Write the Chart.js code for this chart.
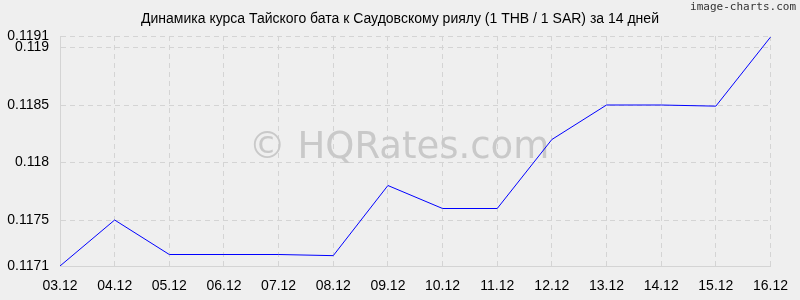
<!DOCTYPE html>
<html>
<head>
<meta charset="utf-8">
<script src="https://cdn.jsdelivr.net/npm/chart.js@4"></script>
<style>
  html, body { margin: 0; padding: 0; background: #efefef; }
  #wrap { width: 800px; height: 300px; position: relative; }
</style>
</head>
<body>
<div id="wrap"><canvas id="c"></canvas></div>
<script>
var dates = ['03.12', '04.12', '05.12', '06.12', '07.12', '08.12', '09.12',
             '10.12', '11.12', '12.12', '13.12', '14.12', '15.12', '16.12'];
var rates = [0.1171, 0.1175, 0.11720, 0.11720, 0.11720, 0.11719, 0.11780,
             0.11760, 0.11760, 0.11820, 0.11850, 0.11850, 0.11849, 0.11909];
var yTicks = [0.1171, 0.1175, 0.118, 0.1185, 0.119, 0.1191];

var TITLE = 'Динамика курса Тайского бата к Саудовскому риялу (1 THB / 1 SAR) за 14 дней';

// title, watermark and the image-charts credit, drawn straight on the canvas
var decor = {
  id: 'decor',
  beforeDraw: function (chart) {
    var ctx = chart.ctx;
    ctx.save();
    ctx.fillStyle = '#efefef';
    ctx.fillRect(0, 0, chart.width, chart.height);
    ctx.restore();
  },
  beforeDatasetsDraw: function (chart) {
    var ctx = chart.ctx;
    ctx.save();
    ctx.fillStyle = '#c9c9c9';
    ctx.font = '37px "DejaVu Sans", sans-serif';
    ctx.textAlign = 'center';
    ctx.textBaseline = 'middle';
    ctx.fillText('© HQRates.com', 399, 148);
    ctx.restore();
  },
  afterDraw: function (chart) {
    var ctx = chart.ctx;
    ctx.save();
    ctx.fillStyle = '#000';
    ctx.font = '14px "Liberation Sans", Arial, sans-serif';
    ctx.textAlign = 'center';
    ctx.textBaseline = 'middle';
    ctx.fillText(TITLE, 400, 19);
    ctx.fillStyle = '#333';
    ctx.font = '11px "DejaVu Sans Mono", monospace';
    ctx.textAlign = 'right';
    ctx.fillText('image-charts.com', 796, 7);
    ctx.restore();
  }
};

var gridCol = '#d4d4d4';

new Chart(document.getElementById('c'), {
  type: 'line',
  data: {
    labels: dates,
    datasets: [{
      data: rates,
      borderColor: '#0000ff',
      borderWidth: 1,
      pointRadius: 0,
      tension: 0,
      fill: false
    }]
  },
  options: {
    responsive: true,
    maintainAspectRatio: false,
    animation: false,
    layout: { padding: { left: 0, right: 21, top: 36, bottom: 0 } },
    plugins: {
      legend: { display: false },
      title: { display: false },
      tooltip: { enabled: false }
    },
    scales: {
      x: {
        offset: false,
        grid: { color: gridCol, drawTicks: false },
        border: { display: true, color: gridCol, dash: [5, 4] },
        ticks: {
          color: '#000',
          font: { family: '"Liberation Sans", Arial, sans-serif', size: 14 },
          padding: 12,
          maxRotation: 0,
          autoSkip: false
        },
        afterFit: function (s) { s.height = 34; }
      },
      y: {
        min: 0.1171,
        max: 0.1191,
        afterBuildTicks: function (s) {
          s.ticks = yTicks.map(function (v) { return { value: v }; });
        },
        grid: { color: gridCol, drawTicks: false },
        border: { display: true, color: gridCol, dash: [5, 4] },
        ticks: {
          color: '#000',
          font: { family: '"Liberation Sans", Arial, sans-serif', size: 14 },
          padding: 11,
          callback: function (v) { return String(+v.toFixed(4)); }
        },
        afterFit: function (s) { s.width = 60; }
      }
    }
  },
  plugins: [decor]
});
</script>
</body>
</html>
